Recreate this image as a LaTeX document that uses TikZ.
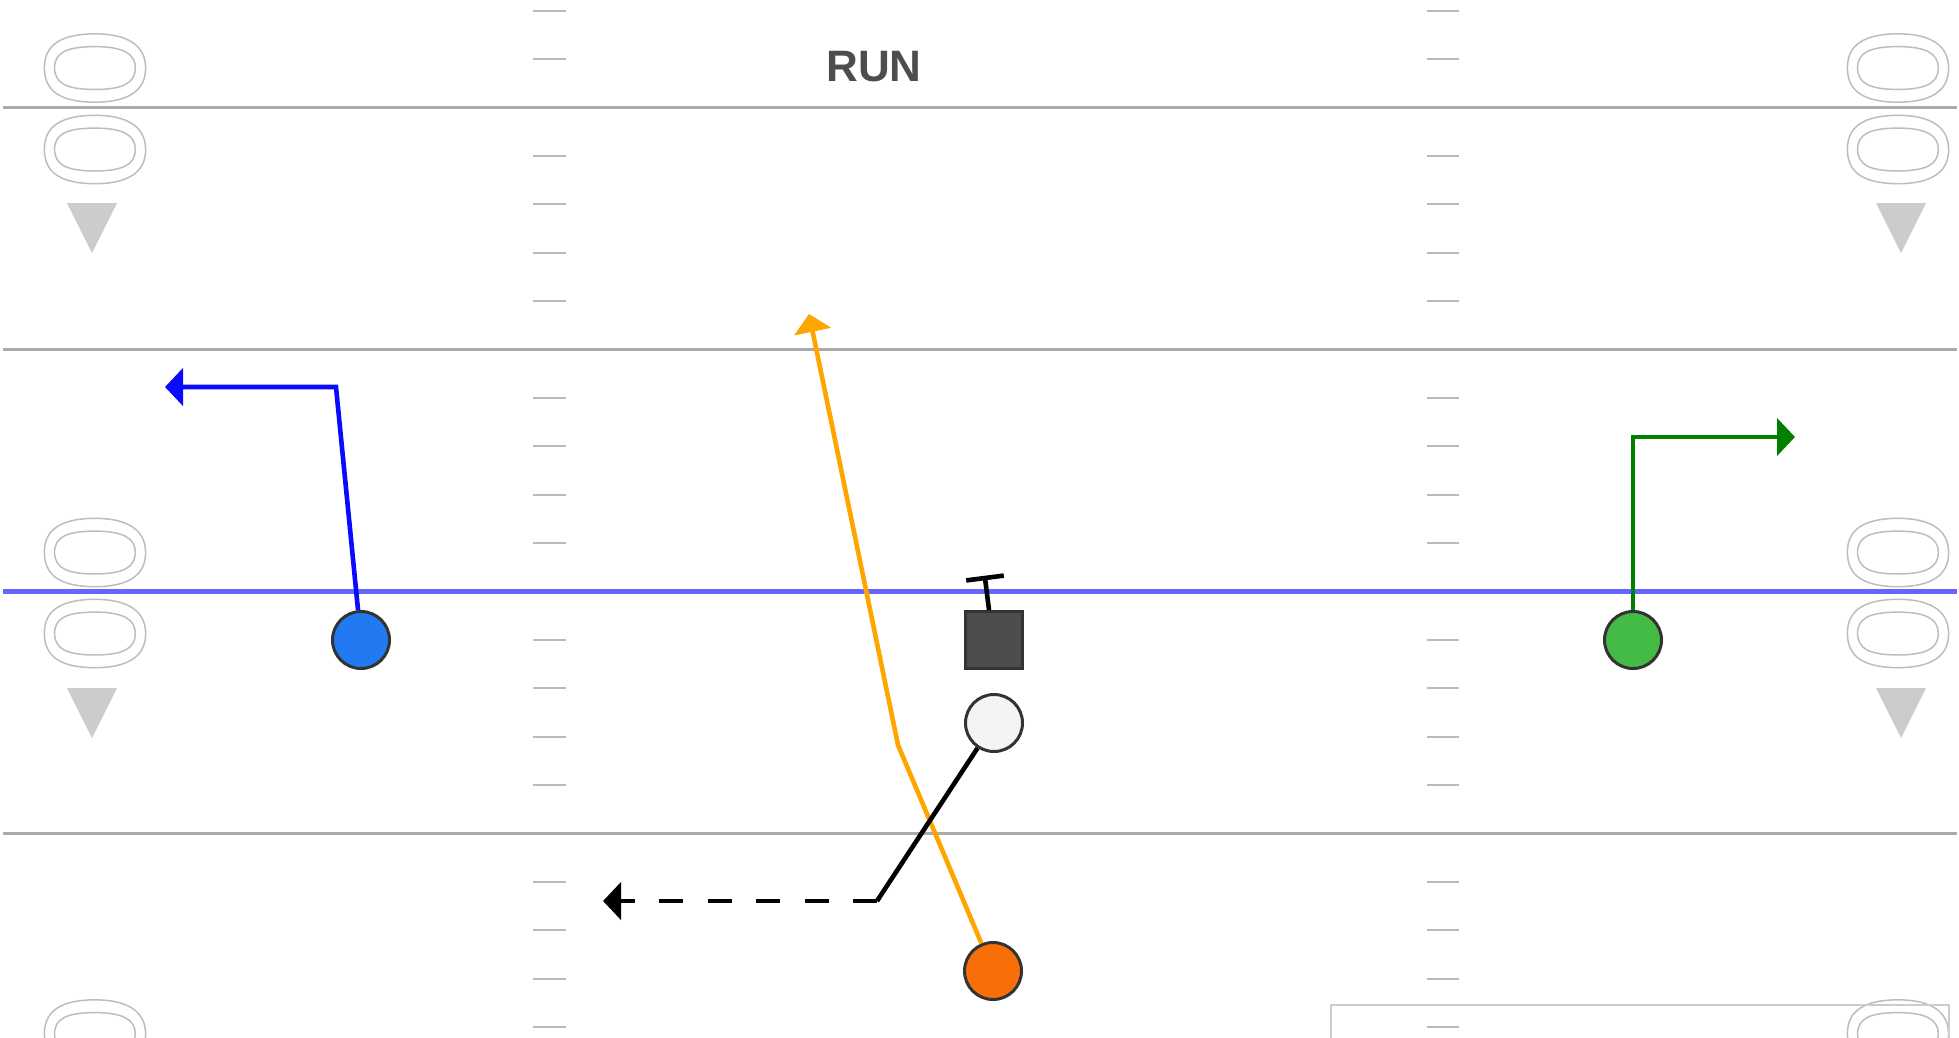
\documentclass[tikz,border=0pt]{standalone}
\usepackage{fontspec}
\setmainfont{Liberation Sans}
\usetikzlibrary{arrows.meta}
\definecolor{fieldline}{HTML}{AAAAAA}
\definecolor{hashc}{HTML}{BBBBBB}
\definecolor{trig}{HTML}{CCCCCC}
\definecolor{losc}{HTML}{6666FF}
\definecolor{pstroke}{HTML}{333333}
\definecolor{pblue}{RGB}{34,122,242}
\definecolor{pgreen}{RGB}{68,187,68}
\definecolor{porange}{RGB}{248,111,10}
\definecolor{pwhite}{HTML}{F4F4F4}
\definecolor{sqc}{HTML}{4D4D4D}
\definecolor{runc}{HTML}{4D4D4D}
\definecolor{rblue}{RGB}{10,10,255}
\definecolor{rgreen}{RGB}{0,128,0}
\definecolor{rorange}{RGB}{255,165,0}
% outlined (stroked) digit for the yard numbers
\newcommand\outlinedigit[1]{\special{pdf:literal direct 1 Tr 1.5 w 0.74 0.74 0.74 RG}#1\special{pdf:literal direct 0 Tr}}
\begin{document}
\begin{tikzpicture}[x=1pt,y=-1pt,
  fline/.style={draw=fieldline, line width=3pt},
  hashmark/.style={draw=hashc, line width=1.8pt},
  zero/.style={rotate=90, inner sep=0pt, font=\fontsize{143}{143}\selectfont},
  player/.style={circle, draw=pstroke, line width=3pt, minimum size=57pt, inner sep=0pt},
  route/.style={line width=4.6pt},
  routetip/.style={-{Triangle[length=18pt,width=37pt]}},
]
\useasboundingbox (0,0) rectangle (1959,1037);
\clip (0,0) rectangle (1959,1037);

% yard numbers
\foreach \x/\n in {95/L,1898/R}{
  \foreach \y/\m in {68/a,149.5/b,552.5/c,633.5/d,1034/e}{
    \node[zero] (z\n\m) at (\x,\y) {\outlinedigit{0}};
  }
}
% direction triangles
\foreach \x in {92,1901}{
  \foreach \y in {203,688}{
    \fill[trig] (\x-25,\y) -- (\x+25,\y) -- (\x,\y+50) -- cycle;
  }
}
% field lines
\foreach \y in {107.4,349.4,833.4}{
  \draw[fline] (3,\y) -- (1957,\y);
}
\draw[losc, line width=4.5pt] (3,591.4) -- (1957,591.4);
% hash marks
\foreach \k in {-2,-1,1,2,3,4,6,7,8,9,11,12,13,14,16,17,18,19}{
  \pgfmathsetmacro\yy{107.4+48.4*\k}
  \draw[hashmark] (533,\yy) -- (566,\yy);
  \draw[hashmark] (1427,\yy) -- (1459,\yy);
}
% box bottom right
\draw[trig, line width=1.5pt] (1331,1005) rectangle (1949,1060);

% title
\node[font=\bfseries\fontsize{44}{44}\selectfont, text=runc, inner sep=0pt] (title) at (874,67) {RUN};

% players
\node[player, fill=pblue] (b) at (361,640) {};
\node[player, fill=pgreen] (g) at (1633,640) {};
\node[player, fill=pwhite] (w) at (994,723) {};
\node[player, fill=porange] (o) at (993,971) {};
\node[rectangle, draw=pstroke, fill=sqc, line width=3pt, minimum size=57pt, inner sep=0pt] (c) at (994,640) {};

% route coordinates
\coordinate (bc) at (336,387); \coordinate (be) at (165,387);
\coordinate (gc) at (1633,437); \coordinate (ge) at (1795,437);
\coordinate (oc) at (898,745); \coordinate (oe) at (809,314);
\coordinate (wc) at (877,901); \coordinate (we) at (603,901);
\coordinate (ts) at (985,578);
\coordinate (t1) at (966.2,580.4); \coordinate (t2) at (1003.8,575.6);

% routes
\draw[route, draw=rblue, routetip] (b) -- (bc) -- (be);
\draw[route, draw=rgreen, routetip] (g) -- (gc) -- (ge);
\draw[route, draw=rorange, routetip] (o) -- (oc) -- (oe);
\draw[route, black] (w) -- (wc);
\draw[route, black, dash pattern=on 24pt off 24.5pt, routetip] (wc) -- (we);
% block
\draw[route, black] ([xshift=-5pt]c.north) -- (ts);
\draw[route, black] (t1) -- (t2);
\end{tikzpicture}
\end{document}
